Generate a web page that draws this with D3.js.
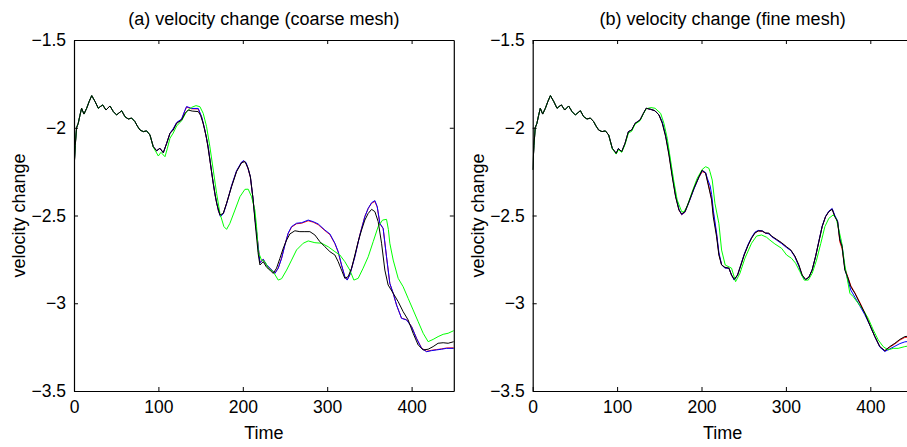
<!DOCTYPE html>
<html>
<head>
<meta charset="utf-8">
<script src="https://cdn.jsdelivr.net/npm/d3@7"></script>
<style>
  body { margin: 0; background: #fff; }
  svg { display: block; font-family: 'Liberation Sans', Arial, sans-serif; }
</style>
</head>
<body>
<div id="chart"></div>
<script>
const timeTicks = [0, 100, 200, 300, 400];
const valueTicks = [-1.5, -2, -2.5, -3, -3.5];
const titles = ['(a) velocity change (coarse mesh)', '(b) velocity change (fine mesh)'];

// common start of every run (t = 0..90)
const startCurve = [[0,-2.24],[1.5,-2.1],[3,-2.0],[5,-1.975],[7,-1.93],[9,-1.889],[11.8,-1.922],[15,-1.889],[18,-1.85],[21,-1.817],[25,-1.851],[28.8,-1.889],[31,-1.88],[34,-1.87],[37.9,-1.899],[42.6,-1.876],[46.6,-1.908],[50.5,-1.927],[56.5,-1.903],[60.4,-1.937],[64.3,-1.95],[68.3,-1.945],[72.2,-1.965],[75,-1.99],[78.2,-2.013],[82.1,-2.022],[86.1,-2.018],[90,-2.041]];

// coarse mesh
const coarseBlack = [[93.9,-2.108],[97.9,-2.131],[101.8,-2.117],[105.8,-2.142],[109.8,-2.089],[113.7,-2.032],[117.6,-2.013],[121.6,-1.975],[127.5,-1.956],[131.5,-1.918],[135.4,-1.899],[140,-1.905],[147.2,-1.908],[150,-1.93],[153.1,-1.975],[157.1,-2.06],[161,-2.184],[165,-2.317],[169,-2.43],[172.9,-2.497],[176.8,-2.488],[180.8,-2.43],[186.7,-2.336],[192.6,-2.25],[198.6,-2.199],[202.5,-2.193],[206.4,-2.231],[209,-2.28],[212,-2.4],[215,-2.56],[218.3,-2.72],[220.3,-2.782],[224.2,-2.763],[228.2,-2.795],[232.1,-2.811],[236,-2.83],[240,-2.8],[244,-2.744],[247.9,-2.687],[251.9,-2.64],[255.8,-2.605],[261.7,-2.587],[267.6,-2.592],[273.6,-2.592],[279.5,-2.592],[285.4,-2.611],[291.3,-2.649],[297.3,-2.678],[303.2,-2.706],[309.1,-2.725],[313,-2.763],[317,-2.811],[320.9,-2.858],[324.9,-2.848],[328.9,-2.8],[332.8,-2.725],[336.7,-2.649],[340.7,-2.583],[344.6,-2.526],[348.6,-2.488],[352.6,-2.465],[356.5,-2.478],[360.4,-2.535],[364.4,-2.658],[368.3,-2.811],[372.2,-2.896],[378.2,-2.943],[384.1,-2.991],[390,-3.048],[395.9,-3.095],[401.8,-3.171],[407.8,-3.238],[413.7,-3.266],[419.6,-3.262],[425.5,-3.247],[431.4,-3.228],[437.4,-3.225],[443.3,-3.228],[450,-3.219]];
const coarseBlue = [[93.9,-2.108],[97.9,-2.131],[101.8,-2.117],[105.8,-2.142],[109.8,-2.089],[113.7,-2.032],[117.6,-2.005],[121.6,-1.97],[127.5,-1.95],[131.5,-1.9],[133.4,-1.879],[139.3,-1.89],[147.2,-1.89],[151.2,-1.937],[155.1,-2.013],[159,-2.108],[163,-2.25],[167,-2.38],[171,-2.47],[173.5,-2.506],[177,-2.49],[181,-2.43],[186.7,-2.33],[192.6,-2.245],[198.6,-2.195],[201.3,-2.187],[204,-2.2],[206.4,-2.235],[209,-2.28],[212,-2.4],[215,-2.54],[217,-2.62],[220.3,-2.77],[224.2,-2.749],[228,-2.78],[232.1,-2.8],[238,-2.83],[242,-2.8],[246,-2.744],[249.9,-2.668],[253.8,-2.6],[257.8,-2.563],[263.7,-2.544],[269.7,-2.541],[277.5,-2.526],[283.4,-2.535],[289.3,-2.548],[297.3,-2.583],[303.2,-2.605],[309.1,-2.658],[313,-2.706],[317,-2.782],[320.9,-2.848],[323.7,-2.868],[326.8,-2.839],[332.8,-2.735],[338.7,-2.611],[344.6,-2.507],[348.6,-2.459],[352.6,-2.427],[356.5,-2.415],[359.3,-2.45],[362.4,-2.545],[366.3,-2.573],[370.3,-2.735],[374.2,-2.887],[378.2,-2.943],[382.2,-3.01],[388.1,-3.086],[394,-3.095],[399.9,-3.133],[405.8,-3.2],[411.8,-3.257],[417.7,-3.276],[423.6,-3.27],[429.5,-3.266],[435.4,-3.262],[441.4,-3.257],[450,-3.257]];
const coarseRed = [[93.9,-2.108],[97.9,-2.131],[101.8,-2.117],[105.8,-2.142],[109.8,-2.089],[113.7,-2.032],[117.6,-2.007],[121.6,-1.972],[127.5,-1.952],[131.5,-1.902],[133.4,-1.882],[139.3,-1.892],[147.2,-1.893],[151.2,-1.94],[155.1,-2.016],[159,-2.11],[163,-2.252],[167,-2.382],[171,-2.472],[173.5,-2.504],[177,-2.488],[181,-2.428],[186.7,-2.332],[192.6,-2.247],[198.6,-2.197],[201.3,-2.19],[204,-2.203],[206.4,-2.237],[209,-2.282],[212,-2.4],[215,-2.54],[217,-2.62],[220.3,-2.768],[224.2,-2.75],[228,-2.782],[232.1,-2.801],[238,-2.829],[242,-2.799],[246,-2.742],[249.9,-2.666],[253.8,-2.602],[257.8,-2.566],[263.7,-2.547],[269.7,-2.544],[277.5,-2.53],[283.4,-2.538],[289.3,-2.552],[297.3,-2.586],[303.2,-2.609],[309.1,-2.66],[313,-2.708],[317,-2.784],[320.9,-2.849],[323.7,-2.866],[326.8,-2.837],[332.8,-2.733],[338.7,-2.609],[344.6,-2.506],[348.6,-2.46],[352.6,-2.43],[356.5,-2.42],[359.3,-2.452],[362.4,-2.546],[366.3,-2.575],[370.3,-2.737],[374.2,-2.887],[378.2,-2.944],[382.2,-3.011],[388.1,-3.085],[394,-3.094],[399.9,-3.132],[405.8,-3.199],[411.8,-3.255],[417.7,-3.274],[423.6,-3.268],[429.5,-3.264],[435.4,-3.26],[441.4,-3.255],[450,-3.254]];
const coarseGreen = [[93.9,-2.11],[99.9,-2.161],[103,-2.14],[107.8,-2.165],[110.5,-2.12],[113.7,-2.06],[117.6,-2.03],[121.6,-1.99],[127.5,-1.96],[133.4,-1.908],[139.3,-1.884],[144.5,-1.874],[149.2,-1.88],[153.1,-1.918],[157.1,-1.994],[161,-2.108],[165,-2.241],[169,-2.374],[172.9,-2.488],[177.6,-2.563],[180.8,-2.579],[184.7,-2.545],[190.7,-2.469],[196.6,-2.393],[202.5,-2.351],[206.4,-2.35],[210.4,-2.393],[214.3,-2.469],[216.3,-2.563],[218.3,-2.706],[222.2,-2.754],[226.2,-2.763],[230.1,-2.8],[236,-2.82],[242,-2.868],[246,-2.86],[251.9,-2.811],[257.8,-2.754],[263.7,-2.696],[271.6,-2.658],[277.5,-2.645],[285.4,-2.655],[293.3,-2.658],[301.2,-2.678],[309.1,-2.706],[315,-2.725],[320.9,-2.763],[326.8,-2.811],[331.6,-2.868],[336.7,-2.858],[342.6,-2.8],[348.6,-2.735],[354.5,-2.649],[360.4,-2.563],[365.6,-2.526],[370.3,-2.522],[372.5,-2.58],[374.2,-2.658],[378.2,-2.754],[384.1,-2.858],[390,-2.906],[395.9,-2.972],[401.8,-3.038],[407.8,-3.105],[413.7,-3.171],[419.6,-3.219],[425.5,-3.206],[431.4,-3.19],[437.4,-3.177],[443.3,-3.171],[450,-3.156]];

// fine mesh
const fineBlack = [[94.3,-2.117],[98.9,-2.146],[101.5,-2.119],[105.5,-2.136],[109.4,-2.089],[113.4,-2.022],[117.3,-2.013],[121.3,-1.975],[127.2,-1.956],[131.2,-1.918],[134.5,-1.889],[139.7,-1.895],[144.8,-1.903],[149.6,-1.927],[153.5,-1.975],[157.5,-2.051],[161.4,-2.155],[165.3,-2.279],[169.3,-2.393],[173.3,-2.469],[176.5,-2.491],[180.4,-2.478],[185.1,-2.421],[191,-2.345],[197,-2.279],[200.9,-2.241],[204.9,-2.26],[208,-2.326],[212,-2.412],[213.9,-2.507],[217.9,-2.621],[220.6,-2.725],[223.8,-2.782],[227.7,-2.795],[232.5,-2.8],[235.6,-2.839],[238.8,-2.864],[242.7,-2.839],[246.7,-2.782],[250.6,-2.725],[255.4,-2.668],[259.3,-2.63],[263.3,-2.6],[267.2,-2.588],[272,-2.588],[275.9,-2.6],[279.8,-2.6],[283,-2.617],[289,-2.636],[294.9,-2.655],[300.8,-2.678],[305.9,-2.697],[310.6,-2.731],[315.4,-2.782],[319.3,-2.839],[323.3,-2.864],[327.2,-2.852],[331.1,-2.811],[335.1,-2.735],[339.1,-2.649],[343,-2.563],[347,-2.507],[350.9,-2.478],[354.8,-2.465],[358,-2.507],[361.2,-2.535],[363.9,-2.64],[366.6,-2.678],[369.8,-2.811],[373,-2.848],[376.9,-2.906],[381.7,-2.943],[387.6,-3.0],[393.5,-3.057],[399.4,-3.124],[405.4,-3.19],[411.3,-3.247],[417.2,-3.27],[423.1,-3.247],[429.1,-3.228],[435,-3.206],[440.9,-3.19],[450,-3.185]];
const fineBlue = [[94.3,-2.117],[98.9,-2.146],[101.5,-2.119],[105.5,-2.136],[109.4,-2.089],[113.4,-2.022],[117.3,-2.013],[121.3,-1.975],[127.2,-1.956],[131.2,-1.918],[134.5,-1.889],[139.7,-1.895],[144.8,-1.903],[149.6,-1.927],[153.5,-1.965],[157.5,-2.04],[161.4,-2.14],[165.3,-2.265],[169.3,-2.385],[173.3,-2.465],[176.5,-2.495],[180.4,-2.48],[185.1,-2.425],[191,-2.35],[197,-2.28],[200.9,-2.245],[204.9,-2.255],[207,-2.29],[210.3,-2.332],[212,-2.38],[214,-2.47],[217.9,-2.6],[220.6,-2.71],[223.8,-2.78],[227.7,-2.8],[232.5,-2.8],[235.6,-2.84],[238.8,-2.868],[242.7,-2.84],[246.7,-2.78],[250.6,-2.72],[255.4,-2.663],[259.3,-2.625],[263.3,-2.595],[267.2,-2.585],[272,-2.588],[275.9,-2.6],[279.8,-2.605],[283,-2.62],[289,-2.64],[294.9,-2.66],[300.8,-2.683],[305.9,-2.7],[310.6,-2.735],[315.4,-2.79],[319.3,-2.845],[323.3,-2.866],[327.2,-2.852],[331.1,-2.81],[335.1,-2.735],[339.1,-2.645],[343,-2.56],[347,-2.505],[350.9,-2.475],[354.8,-2.46],[358,-2.5],[361.2,-2.53],[363.9,-2.63],[366.6,-2.67],[369.8,-2.8],[373,-2.86],[376.9,-2.925],[381.7,-2.965],[387.6,-3.015],[393.5,-3.065],[399.4,-3.124],[405.4,-3.19],[411.3,-3.25],[417.2,-3.275],[423.1,-3.26],[429.1,-3.245],[435,-3.23],[440.9,-3.22],[450,-3.215]];
const fineRed = [[94.3,-2.117],[98.9,-2.146],[101.5,-2.119],[105.5,-2.136],[109.4,-2.089],[113.4,-2.022],[117.3,-2.013],[121.3,-1.975],[127.2,-1.956],[131.2,-1.918],[134.5,-1.889],[139.7,-1.895],[144.8,-1.903],[149.6,-1.927],[153.5,-1.97],[157.5,-2.045],[161.4,-2.148],[165.3,-2.272],[169.3,-2.39],[173.3,-2.468],[176.5,-2.496],[180.4,-2.482],[185.1,-2.424],[191,-2.348],[197,-2.282],[200.9,-2.25],[204.9,-2.258],[208,-2.32],[212,-2.405],[214,-2.49],[217.9,-2.61],[220.6,-2.72],[223.8,-2.78],[227.7,-2.797],[232.5,-2.801],[235.6,-2.84],[238.8,-2.866],[242.7,-2.84],[246.7,-2.781],[250.6,-2.723],[255.4,-2.666],[259.3,-2.628],[263.3,-2.598],[267.2,-2.588],[272,-2.59],[275.9,-2.601],[279.8,-2.603],[283,-2.619],[289,-2.638],[294.9,-2.657],[300.8,-2.68],[305.9,-2.699],[310.6,-2.733],[315.4,-2.786],[319.3,-2.842],[323.3,-2.865],[327.2,-2.852],[331.1,-2.81],[335.1,-2.735],[339.1,-2.647],[343,-2.562],[347,-2.506],[350.9,-2.477],[354.8,-2.463],[358,-2.505],[361.2,-2.533],[363.9,-2.65],[366.6,-2.69],[369.8,-2.8],[373,-2.845],[376.9,-2.9],[381.7,-2.94],[387.6,-2.995],[393.5,-3.055],[399.4,-3.122],[405.4,-3.19],[411.3,-3.248],[417.2,-3.272],[423.1,-3.25],[429.1,-3.232],[435,-3.21],[440.9,-3.195],[450,-3.19]];
const fineGreen = [[94.3,-2.12],[98.9,-2.15],[101.5,-2.125],[105.5,-2.14],[109.4,-2.095],[113.4,-2.03],[117.3,-2.02],[121.3,-1.98],[127.2,-1.96],[131.2,-1.92],[134.5,-1.892],[140,-1.885],[145,-1.889],[151.6,-1.918],[155.5,-1.975],[159.4,-2.06],[163.3,-2.184],[167.3,-2.307],[171.2,-2.412],[176.5,-2.478],[179.2,-2.48],[183.1,-2.446],[189,-2.364],[194.9,-2.288],[200.9,-2.237],[204.9,-2.222],[208.8,-2.231],[210,-2.25],[212.7,-2.298],[215.9,-2.43],[220.6,-2.545],[223.8,-2.697],[228.1,-2.782],[235.6,-2.8],[240.4,-2.877],[245.5,-2.83],[251.4,-2.744],[259.3,-2.658],[265.3,-2.617],[271.2,-2.611],[277.1,-2.624],[281,-2.64],[286.9,-2.662],[294.9,-2.687],[300.8,-2.725],[306.7,-2.744],[311.5,-2.772],[316.6,-2.82],[321.7,-2.868],[326.5,-2.868],[331.1,-2.83],[336.3,-2.754],[341.4,-2.658],[346.2,-2.563],[350.9,-2.516],[356,-2.497],[359.6,-2.516],[365.9,-2.649],[369.8,-2.782],[373,-2.868],[375.8,-2.943],[379.7,-2.962],[385.6,-3.0],[391.6,-3.038],[397.5,-3.086],[403.5,-3.152],[409.4,-3.209],[415.3,-3.247],[421.2,-3.266],[427.1,-3.257],[433,-3.257],[440.9,-3.247],[450,-3.24]];

const seriesColors = ['#ff0000', '#0000ff', '#00ff00', '#000000'];
const panelSeries = [
  [coarseRed, coarseBlue, coarseGreen, coarseBlack],
  [fineRed, fineBlue, fineGreen, fineBlack]
];

const w = 907;
const h = 447;
const plotTop = 40, plotBottom = 391;
const lefts = [74, 532.7];
const plotW = 379.8;

const svg = d3.select('#chart')
              .append('svg')
              .attr('width', w)
              .attr('height', h);

panelSeries.forEach((series, p) => {
  const x0 = lefts[p];
  const xScale = d3.scaleLinear().domain([0, 450]).range([x0, x0 + plotW]);
  const yScale = d3.scaleLinear().domain([-1.5, -3.5]).range([plotTop, plotBottom]);

  svg.append('clipPath')
     .attr('id', 'clip' + p)
     .append('rect')
     .attr('x', x0).attr('y', plotTop)
     .attr('width', plotW).attr('height', plotBottom - plotTop);

  const line = d3.line()
                 .x(d => xScale(d[0]))
                 .y(d => yScale(d[1]));

  const g = svg.append('g').attr('clip-path', `url(#clip${p})`);
  series.forEach((s, i) => {
    g.append('path')
     .datum(startCurve.concat(s))
     .attr('fill', 'none')
     .attr('stroke', seriesColors[i])
     .attr('stroke-width', 1)
     .attr('stroke-linejoin', 'round')
     .attr('d', line);
  });

  // matlab style box with inward ticks
  const fmt = d3.format('');
  const xAxis = d3.axisBottom(xScale).tickValues(timeTicks).tickSizeInner(-4).tickSizeOuter(0).tickPadding(10).tickFormat(fmt);
  const xTop = d3.axisTop(xScale).tickValues(timeTicks).tickSizeInner(-4).tickSizeOuter(0).tickFormat('');
  const yAxis = d3.axisLeft(yScale).tickValues(valueTicks).tickSizeInner(-4).tickSizeOuter(0).tickPadding(8).tickFormat(fmt);
  const yRight = d3.axisRight(yScale).tickValues(valueTicks).tickSizeInner(-4).tickSizeOuter(0).tickFormat('');

  [[xAxis, `translate(0, ${plotBottom})`], [xTop, `translate(0, ${plotTop})`],
   [yAxis, `translate(${x0}, 0)`], [yRight, `translate(${x0 + plotW}, 0)`]].forEach(a => {
    const ax = svg.append('g')
                  .attr('transform', a[1])
                  .call(a[0]);
    ax.selectAll('text').attr('font-size', 17.5).attr('font-family', "'Liberation Sans', Arial, sans-serif").attr('fill', '#000');
    ax.selectAll('line').attr('stroke', '#000');
    ax.select('.domain').attr('stroke', '#000').attr('stroke-width', 1.2);
  });

  svg.append('text')
     .attr('x', x0 + plotW / 2)
     .attr('y', 25)
     .attr('text-anchor', 'middle')
     .attr('font-size', 18)
     .text(titles[p]);

  svg.append('text')
     .attr('x', x0 + plotW / 2)
     .attr('y', 439)
     .attr('text-anchor', 'middle')
     .attr('font-size', 18)
     .text('Time');

  svg.append('text')
     .attr('transform', `translate(${x0 - 49}, ${(plotTop + plotBottom) / 2}) rotate(-90)`)
     .attr('text-anchor', 'middle')
     .attr('font-size', 18)
     .text('velocity change');
});
</script>
</body>
</html>
